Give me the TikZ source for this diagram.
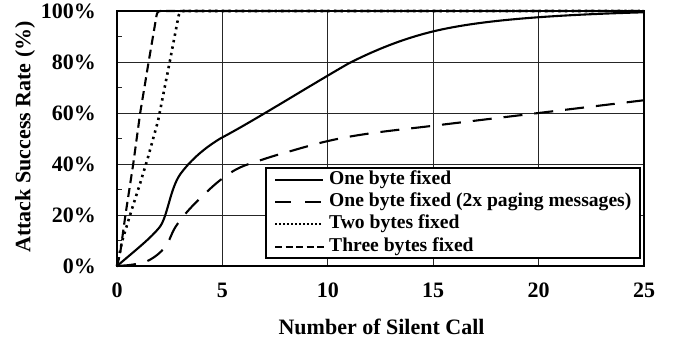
\documentclass[tikz,border=0pt]{standalone}
\usepackage{fontspec}
\setmainfont{Liberation Serif}
\usepackage{tikz}

\begin{document}
\begin{tikzpicture}[x=21.08pt,y=2.55pt,
  gridline/.style={line width=1pt,color=black!85},
  frame/.style={line width=1.2pt},
  curve/.style={line width=2.1pt,line join=round},
  onebyte/.style={curve},
  pagingx/.style={curve,dash pattern=on 19pt off 12pt},
  twobytes/.style={curve,line width=2.6pt,dash pattern=on 2.4pt off 4.2pt},
  threebytes/.style={curve,dash pattern=on 9pt off 5pt},
  ticklabel/.style={font=\fontsize{22}{24}\selectfont\bfseries,inner sep=0pt},
  legendtext/.style={font=\fontsize{19.6}{22}\selectfont\bfseries,inner sep=0pt,anchor=west}]
\useasboundingbox (-117pt,-75pt) rectangle (562pt,266pt);

\foreach \gx in {5,10,15,20} \draw[gridline] (\gx,0) -- (\gx,100);
\foreach \gy in {20,40,60,80} \draw[gridline] (0,\gy) -- (25,\gy);
\foreach \gy in {10,30,50,70,90} \draw[gridline] (0,\gy) -- ++(5pt,0);
\draw[frame] (0,0) rectangle (25,100);

\foreach \gy in {0,20,40,60,80,100}
  \node[ticklabel,anchor=east] (ylab\gy) at ([xshift=-21pt]0,\gy) {\gy\%};
\foreach \gx in {0,5,10,15,20,25}
  \node[ticklabel] (xlab\gx) at ([yshift=-24pt]\gx,0) {\gx};
\node[ticklabel,rotate=90] (ytitle) at ([xshift=-92pt]0,50.6) {Attack Success Rate (\%)};
\node[ticklabel] (xtitle) at ([yshift=-61pt]12.55,0) {Number of Silent Call};

\draw[threebytes] (0,0) -- (0.15,5) -- (0.4,20) -- (0.77,40) -- (1.1,60) -- (1.5,80)
  -- (1.85,97) to[out=80,in=180] (2.05,100) -- (25,100);
\draw[twobytes] (0,0) -- (0.25,10) -- (0.62,20) -- (1.1,32.5) -- (1.45,42) -- (1.95,57)
  -- (2.5,80) -- (2.85,95) to[out=75,in=180] (3.15,100) -- (25,100);
\draw[onebyte] (0,0) .. controls (1,7) and (1.6,11) .. (2,15)
  .. controls (2.4,19) and (2.5,30) .. (3,36)
  .. controls (3.4,40.5) and (4,45.5) .. (4.9,50)
  .. controls (6.5,57) and (9,70) .. (11,79.5)
  .. controls (12.2,84.5) and (13.5,89) .. (15,92)
  .. controls (17,96) and (20,98.3) .. (25,99.5);
\draw[pagingx] plot[smooth,tension=0.6] coordinates {(0,0) (0.7,0.5) (1.4,1.8) (2,5)
  (2.4,9) (2.75,15) (3.3,21) (4,27) (4.9,33.7) (5.8,38.5) (7,42) (8,44.5)
  (10,49) (12,52) (15,55) (18,58) (20,60) (22.5,62.5) (25,65)};

\draw[line width=1.1pt,fill=white] (149pt,8pt) rectangle (523pt,98pt);
\node[legendtext] (leg1) at (212pt,86pt) {One byte fixed};
\node[legendtext] (leg2) at (212pt,64pt) {One byte fixed (2x paging messages)};
\node[legendtext] (leg3) at (212pt,42pt) {Two bytes fixed};
\node[legendtext] (leg4) at (212pt,19pt) {Three bytes fixed};
\draw[onebyte] ([xshift=-54pt]leg1.west) -- ([xshift=-6pt]leg1.west);
\draw[curve,dash pattern=on 16pt off 14pt] ([xshift=-54pt]leg2.west) -- ([xshift=-6pt]leg2.west);
\draw[curve,line width=1.5pt,dash pattern=on 1.5pt off 2.5pt] ([xshift=-54pt]leg3.west) -- ([xshift=-6pt]leg3.west);
\draw[threebytes,dash pattern=on 7pt off 3.5pt] ([xshift=-54pt]leg4.west) -- ([xshift=-2pt]leg4.west);
\end{tikzpicture}
\end{document}
